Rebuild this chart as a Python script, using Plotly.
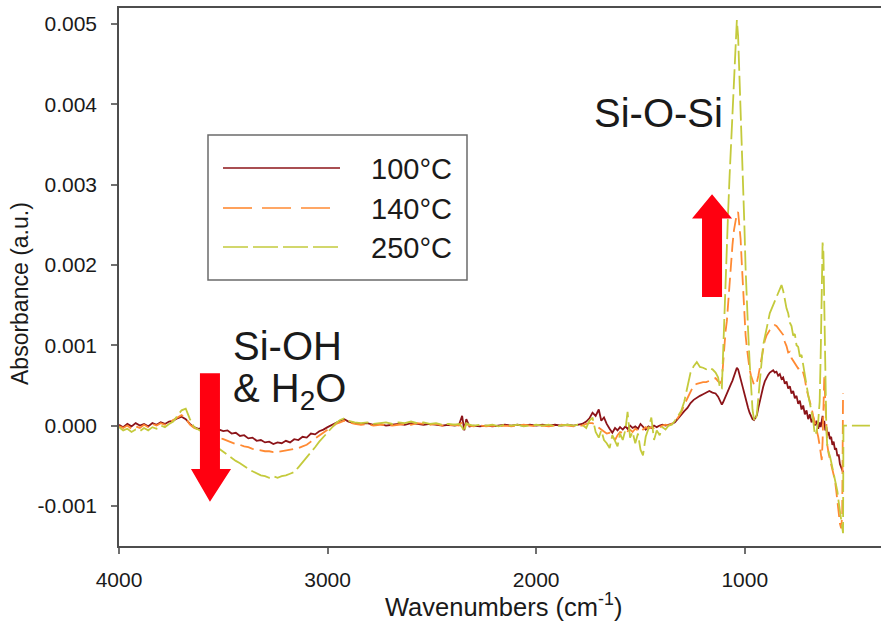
import plotly.graph_objects as go

# ---------------------------------------------------------------- data
# FTIR difference spectra, absorbance (a.u.) vs wavenumber (cm-1)
wavenumber = [
    4000, 3980, 3960, 3940, 3920, 3900, 3880, 3860, 3840, 3820,
    3800, 3780, 3760, 3740, 3720, 3700, 3680, 3660, 3640, 3620,
    3600, 3580, 3560, 3540, 3520, 3500, 3480, 3460, 3440, 3420,
    3400, 3380, 3360, 3340, 3320, 3300, 3280, 3260, 3240, 3220,
    3200, 3180, 3160, 3140, 3120, 3100, 3080, 3060, 3040, 3020,
    3000, 2980, 2960, 2940, 2920,
    2900, 2870, 2840, 2810, 2780, 2750, 2720, 2690, 2660, 2630,
    2600, 2570, 2540, 2510, 2480, 2450, 2420, 2390, 2370, 2355,
    2345, 2335, 2320, 2300, 2270, 2240, 2210, 2180, 2150, 2120,
    2090, 2060, 2030, 2000, 1970, 1940, 1910, 1880, 1850, 1820,
    1800,
    1780, 1760, 1745, 1730, 1715, 1700, 1688, 1675, 1662, 1648,
    1635, 1622, 1610, 1598, 1585, 1572, 1562, 1550, 1538, 1525,
    1512, 1500, 1488, 1475, 1462, 1448, 1435, 1422, 1408, 1395,
    1380, 1365, 1350, 1335,
    1320, 1305, 1290, 1275, 1260, 1245, 1230, 1215, 1200, 1185,
    1170, 1155, 1140, 1128, 1118, 1110, 1104, 1098, 1092, 1086,
    1080, 1073, 1066, 1059, 1052, 1045, 1038, 1032, 1026, 1020,
    1014, 1008, 1002, 996, 990, 984, 977, 970, 963, 956,
    949, 942, 935, 928, 920, 912, 904, 896, 888, 880,
    872, 864, 856, 848, 840, 832, 824, 816, 808, 800,
    792, 784, 776, 768, 760, 752, 744, 736, 728, 720,
    712, 704, 696, 688, 680, 672, 664, 656, 648, 641,
    636, 631, 627, 623, 619, 614, 609, 604, 598, 592,
    586, 580, 574, 568, 562, 556, 550, 544, 538, 533,
    529, 527, 400,
]

abs_100C = [
    0.00001, -0.00002, 0.00002, -0.00001, 0.00003, 0.00000, 0.00002, -0.00001, 0.00003, 0.00001,
    0.00004, 0.00002, 0.00005, 0.00006, 0.00009, 0.00011, 0.00008, 0.00002, -0.00002, -0.00004,
    -0.00003, -0.00001, -0.00004, -0.00002, -0.00005, -0.00007, -0.00006, -0.00010, -0.00009, -0.00013,
    -0.00012, -0.00016, -0.00015, -0.00019, -0.00018, -0.00021, -0.00020, -0.00023, -0.00021, -0.00022,
    -0.00019, -0.00021, -0.00017, -0.00018, -0.00014, -0.00015, -0.00010, -0.00011, -0.00007, -0.00005,
    -0.00002, 0.00001, 0.00003, 0.00006, 0.00008,
    0.00005, 0.00003, 0.00002, 0.00003, 0.00001, 0.00002, 0.00000, 0.00001, 0.00002, 0.00001,
    0.00003, 0.00002, 0.00001, 0.00002, 0.00001, 0.00000, 0.00001, 0.00000, 0.00001, 0.00012,
    -0.00006, 0.00008, -0.00001, 0.00000, -0.00001, 0.00000, -0.00001, 0.00000, 0.00001, 0.00000,
    0.00001, 0.00000, 0.00001, 0.00000, 0.00001, 0.00000, 0.00001, 0.00000, 0.00001, 0.00000,
    0.00001,
    0.00002, 0.00005, 0.00009, 0.00016, 0.00012, 0.00020, 0.00006, 0.00010, 0.00002, -0.00004,
    -0.00009, -0.00003, -0.00006, -0.00002, -0.00005, -0.00001, -0.00004, 0.00000, -0.00003, -0.00001,
    -0.00004, 0.00002, -0.00002, -0.00005, -0.00001, -0.00003, 0.00000, -0.00002, 0.00000, 0.00001,
    0.00000, 0.00001, 0.00002, 0.00004,
    0.00009, 0.00014, 0.00018, 0.00022, 0.00028, 0.00032, 0.00035, 0.00037, 0.00039, 0.00041,
    0.00043, 0.00041, 0.00040, 0.00036, 0.00030, 0.00026, 0.00029, 0.00033, 0.00036, 0.00040,
    0.00044, 0.00048, 0.00052, 0.00056, 0.00061, 0.00066, 0.00072, 0.00070, 0.00063, 0.00056,
    0.00050, 0.00046, 0.00040, 0.00033, 0.00027, 0.00022, 0.00016, 0.00011, 0.00008, 0.00007,
    0.00010, 0.00013, 0.00022, 0.00031, 0.00040, 0.00048, 0.00055, 0.00060, 0.00063, 0.00066,
    0.00067, 0.00069, 0.00066, 0.00067, 0.00062, 0.00064, 0.00058, 0.00060, 0.00052, 0.00055,
    0.00046, 0.00049, 0.00040, 0.00043, 0.00034, 0.00037, 0.00027, 0.00031, 0.00020, 0.00025,
    0.00014, 0.00019, 0.00008, 0.00014, 0.00004, 0.00010, 0.00000, 0.00006, -0.00004, 0.00004,
    -0.00002, 0.00008, 0.00012, 0.00002, 0.00006, -0.00006, -0.00002, -0.00012, -0.00008, -0.00017,
    -0.00014, -0.00024, -0.00020, -0.00030, -0.00028, -0.00038, -0.00036, -0.00048, -0.00052, -0.00056,
    -0.00058, None, None,
]

abs_140C = [
    -0.00001, -0.00003, 0.00000, -0.00004, -0.00001, -0.00003, 0.00001, -0.00002, 0.00002, 0.00000,
    0.00003, 0.00001, 0.00004, 0.00007, 0.00010, 0.00013, 0.00009, 0.00001, -0.00003, -0.00005,
    -0.00006, -0.00009, -0.00010, -0.00013, -0.00015, -0.00017, -0.00019, -0.00021, -0.00023, -0.00024,
    -0.00026, -0.00027, -0.00029, -0.00030, -0.00031, -0.00032, -0.00032, -0.00033, -0.00033, -0.00032,
    -0.00031, -0.00030, -0.00029, -0.00028, -0.00026, -0.00024, -0.00020, -0.00016, -0.00013, -0.00009,
    -0.00005, -0.00002, 0.00002, 0.00004, 0.00006,
    0.00004, 0.00002, 0.00001, 0.00002, 0.00000, 0.00001, 0.00001, 0.00000, 0.00001, 0.00002,
    0.00001, 0.00003, 0.00002, 0.00001, 0.00002, 0.00000, 0.00000, 0.00001, 0.00000, 0.00004,
    -0.00003, 0.00002, 0.00000, -0.00001, 0.00000, -0.00001, 0.00000, -0.00001, 0.00000, -0.00001,
    0.00000, 0.00001, 0.00000, -0.00001, 0.00000, -0.00001, 0.00000, 0.00001, 0.00000, -0.00001,
    0.00000,
    0.00000, 0.00002, 0.00003, 0.00003, 0.00000, -0.00002, -0.00005, -0.00007, -0.00010, -0.00009,
    -0.00012, -0.00018, -0.00012, -0.00008, -0.00009, -0.00006, -0.00007, -0.00005, -0.00008, -0.00004,
    -0.00006, -0.00003, -0.00005, -0.00002, -0.00004, -0.00002, -0.00003, -0.00001, -0.00002, 0.00000,
    0.00001, 0.00000, 0.00002, 0.00005,
    0.00010, 0.00016, 0.00026, 0.00034, 0.00042, 0.00050, 0.00052, 0.00053, 0.00054, 0.00054,
    0.00056, 0.00058, 0.00059, 0.00055, 0.00053, 0.00056, 0.00080, 0.00100, 0.00118, 0.00130,
    0.00150, 0.00185, 0.00205, 0.00225, 0.00243, 0.00256, 0.00264, 0.00266, 0.00252, 0.00232,
    0.00200, 0.00168, 0.00135, 0.00112, 0.00097, 0.00082, 0.00070, 0.00062, 0.00056, 0.00051,
    0.00050, 0.00054, 0.00062, 0.00072, 0.00084, 0.00096, 0.00106, 0.00112, 0.00116, 0.00119,
    0.00121, 0.00123, 0.00125, 0.00124, 0.00121, 0.00119, 0.00116, 0.00113, 0.00104, 0.00099,
    0.00091, 0.00092, 0.00084, 0.00081, 0.00077, 0.00074, 0.00071, 0.00072, 0.00067, 0.00066,
    0.00058, 0.00045, 0.00038, 0.00028, 0.00022, 0.00012, 0.00004, -0.00006, -0.00014, -0.00025,
    -0.00038, -0.00043, -0.00020, 0.00035, 0.00060, 0.00030, -0.00005, -0.00025, -0.00035, -0.00042,
    -0.00050, -0.00056, -0.00062, -0.00068, -0.00080, -0.00095, -0.00112, -0.00122, -0.00128, -0.00112,
    0.00040, None, None,
]

abs_250C = [
    -0.00002, -0.00006, -0.00004, -0.00008, -0.00005, -0.00007, -0.00003, -0.00006, -0.00002, -0.00004,
    0.00000, -0.00002, 0.00002, 0.00005, 0.00012, 0.00019, 0.00021, 0.00008, -0.00002, -0.00005,
    -0.00008, -0.00013, -0.00019, -0.00024, -0.00029, -0.00033, -0.00036, -0.00041, -0.00044, -0.00047,
    -0.00051, -0.00054, -0.00057, -0.00059, -0.00062, -0.00063, -0.00065, -0.00063, -0.00065, -0.00063,
    -0.00062, -0.00060, -0.00058, -0.00052, -0.00046, -0.00040, -0.00033, -0.00027, -0.00020, -0.00014,
    -0.00008, -0.00003, 0.00003, 0.00007, 0.00009,
    0.00006, 0.00004, 0.00003, 0.00004, 0.00002, 0.00003, 0.00004, 0.00002, 0.00004, 0.00003,
    0.00005, 0.00003, 0.00004, 0.00002, 0.00003, 0.00001, 0.00002, 0.00001, 0.00002, -0.00002,
    -0.00008, 0.00003, 0.00001, 0.00000, 0.00001, 0.00000, 0.00001, -0.00001, 0.00001, 0.00000,
    0.00001, -0.00001, 0.00000, 0.00001, 0.00000, 0.00001, -0.00001, 0.00000, 0.00001, 0.00000,
    0.00001,
    0.00001, -0.00003, 0.00006, 0.00010, -0.00008, -0.00015, -0.00006, -0.00018, -0.00022, -0.00028,
    -0.00012, -0.00020, -0.00026, -0.00010, -0.00018, -0.00005, 0.00017, -0.00015, -0.00008, -0.00022,
    -0.00010, -0.00030, -0.00037, -0.00014, -0.00004, 0.00010, -0.00018, -0.00006, -0.00012, -0.00002,
    -0.00005, 0.00000, 0.00001, 0.00006,
    0.00012, 0.00018, 0.00030, 0.00048, 0.00066, 0.00074, 0.00079, 0.00073, 0.00072, 0.00070,
    0.00072, 0.00070, 0.00066, 0.00060, 0.00045, 0.00046, 0.00095, 0.00135, 0.00175, 0.00215,
    0.00265, 0.00310, 0.00350, 0.00385, 0.00430, 0.00475, 0.00505, 0.00485, 0.00440, 0.00400,
    0.00360, 0.00310, 0.00250, 0.00195, 0.00150, 0.00118, 0.00080, 0.00045, 0.00020, 0.00008,
    0.00005, 0.00015, 0.00035, 0.00060, 0.00085, 0.00100, 0.00110, 0.00120, 0.00130, 0.00140,
    0.00145, 0.00150, 0.00155, 0.00158, 0.00165, 0.00170, 0.00175, 0.00168, 0.00155, 0.00146,
    0.00140, 0.00128, 0.00124, 0.00112, 0.00114, 0.00100, 0.00098, 0.00086, 0.00088, 0.00074,
    0.00066, 0.00048, 0.00038, 0.00028, 0.00018, 0.00006, -0.00012, -0.00008, 0.00005, 0.00030,
    0.00090, 0.00180, 0.00228, 0.00215, 0.00150, 0.00060, -0.00005, -0.00028, -0.00032, -0.00038,
    -0.00045, -0.00052, -0.00060, -0.00065, -0.00072, -0.00082, -0.00095, -0.00108, -0.00120, -0.00128,
    -0.00134, 0.00000, 0.00000,
]

series_names = ["100°C", "140°C", "250°C"]
series_values = [abs_100C, abs_140C, abs_250C]

x_tick_vals = [4000, 3000, 2000, 1000]
x_tick_text = ["4000", "3000", "2000", "1000"]
y_tick_vals = [-0.001, 0.000, 0.001, 0.002, 0.003, 0.004, 0.005]
y_tick_text = ["-0.001", "0.000", "0.001", "0.002", "0.003", "0.004", "0.005"]

# ---------------------------------------------------------------- style
FONT = "Liberation Sans, Arial, Helvetica, sans-serif"
TEXT = "#1a1a1a"
AXIS = "#4d4d4d"
RED_ARROW = "#ff0010"
colors = ["#8c1419", "#ff8a33", "#c4ca3c"]
dashes = ["solid", "14px,6px", "20px,5px"]
legend_dashes = ["solid", "29px,10px", "25px,5px"]

W, H = 881, 625
ML, MR, MT, MB = 119, 0, 8, 79


def px(x):
    """pixel column -> paper x"""
    return (x - ML) / (W - ML - MR)


def py(y):
    """pixel row -> paper y"""
    return (H - MB - y) / (H - MT - MB)


fig = go.Figure()
for name, vals, col, dash in zip(series_names, series_values, colors, dashes):
    fig.add_trace(go.Scatter(
        x=wavenumber, y=vals, name=name, mode="lines",
        line=dict(color=col, width=1.8, dash=dash),
        connectgaps=False, showlegend=False,
    ))

shapes = []
annotations = []

# legend frame, sample lines and labels
shapes.append(dict(type="rect", xref="paper", yref="paper",
                   x0=px(208), x1=px(467), y0=py(280), y1=py(135),
                   line=dict(color="#6b6b6b", width=1.5), fillcolor="white", layer="above"))
for i, (name, col, dash) in enumerate(zip(series_names, colors, legend_dashes)):
    yl = [168, 208, 247][i]
    shapes.append(dict(type="line", xref="paper", yref="paper",
                       x0=px(223), x1=px(340), y0=py(yl), y1=py(yl),
                       line=dict(color=col, width=1.6, dash=dash), layer="above"))
    annotations.append(dict(text=name, xref="paper", yref="paper",
                            x=px(369), y=py(yl + 1), xanchor="left", yanchor="middle",
                            showarrow=False, font=dict(size=29, color=TEXT, family=FONT)))

# arrows (data coordinates)
down_arrow = ("M 3612,0.00065 L 3516,0.00065 L 3516,-0.00054 L 3463,-0.00054 "
              "L 3564,-0.00095 L 3655,-0.00054 L 3612,-0.00054 Z")
up_arrow = ("M 1205,0.00160 L 1109,0.00160 L 1109,0.00258 L 1061,0.00258 "
            "L 1157,0.00288 L 1253,0.00258 L 1205,0.00258 Z")
for path in (down_arrow, up_arrow):
    shapes.append(dict(type="path", xref="x", yref="y", path=path,
                       fillcolor=RED_ARROW, line=dict(width=0), layer="above"))

# band labels
big = dict(size=40, color=TEXT, family=FONT)
annotations += [
    dict(text="Si-O-Si", x=px(592), y=py(113), xanchor="left", yanchor="middle"),
    dict(text="Si-OH", x=px(231), y=py(346), xanchor="left", yanchor="middle"),
    dict(text="& H<sub>2</sub>O", x=px(231), y=py(391), xanchor="left", yanchor="middle"),
]
for a in annotations[-3:]:
    a.update(xref="paper", yref="paper", showarrow=False, font=big)

# axis titles
annotations += [
    dict(text="Wavenumbers (cm<sup>-1</sup>)", x=px(503), y=py(605), xref="paper", yref="paper",
         xanchor="center", yanchor="middle", showarrow=False,
         font=dict(size=25.5, color=TEXT, family=FONT)),
    dict(text="Absorbance (a.u.)", x=px(20), y=py(294), xref="paper", yref="paper",
         xanchor="center", yanchor="middle", textangle=-90, showarrow=False,
         font=dict(size=23, color=TEXT, family=FONT)),
]

axis_common = dict(showgrid=False, zeroline=False, showline=True, linecolor=AXIS, linewidth=1.5,
                   ticks="outside", ticklen=6, tickwidth=1.5, tickcolor="#707070",
                   tickfont=dict(size=21, color=TEXT, family=FONT))

fig.update_layout(
    width=W, height=H,
    margin=dict(l=ML, r=MR, t=MT, b=MB, autoexpand=False),
    paper_bgcolor="white", plot_bgcolor="white",
    font=dict(family=FONT, color=TEXT),
    xaxis=dict(range=[4000, 347], tickvals=x_tick_vals, ticktext=x_tick_text,
               mirror=True, ticklabelstandoff=8, **axis_common),
    yaxis=dict(range=[-0.0015, 0.0052], tickvals=y_tick_vals, ticktext=y_tick_text,
               ticklabelstandoff=10, **axis_common),
    shapes=shapes,
    annotations=annotations,
    showlegend=False,
)

fig.write_html("out.html")
